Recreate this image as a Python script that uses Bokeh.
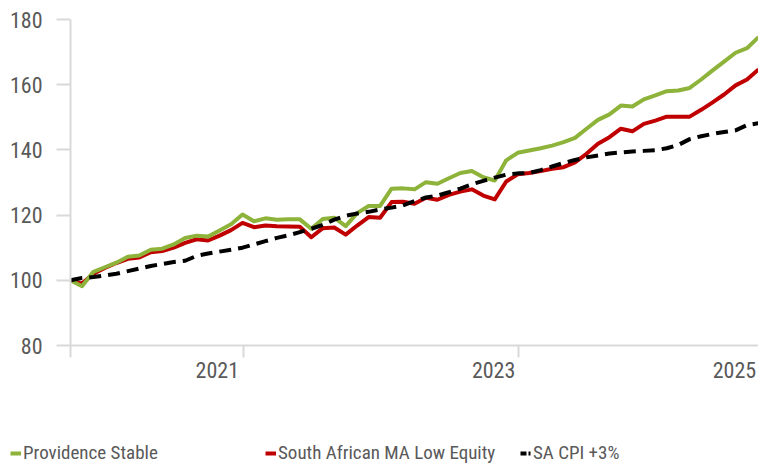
from bokeh.plotting import figure
from bokeh.models import FixedTicker, Legend, LegendItem, Range1d
from bokeh.embed import file_html
from bokeh.resources import INLINE

# ---- data (monthly index values, base 100) ----
month_index = list(range(61))

providence_stable = [
    100.0, 98.2, 102.6, 104.0, 105.4, 107.2, 107.6, 109.4, 109.7, 111.0,
    113.0, 113.7, 113.4, 115.3, 117.2, 120.2, 118.1, 119.0, 118.6, 118.7,
    118.7, 115.8, 118.8, 119.2, 116.6, 120.6, 122.8, 122.8, 128.1, 128.2,
    127.9, 130.1, 129.6, 131.3, 132.9, 133.5, 131.6, 130.6, 136.8, 139.1,
    139.8, 140.5, 141.3, 142.4, 143.7, 146.5, 149.2, 150.9, 153.6, 153.3,
    155.5, 156.7, 158.0, 158.2, 159.0, 161.6, 164.4, 167.1, 169.8, 171.2,
    174.6,
]

sa_ma_low_equity = [
    100.0, 99.0, 102.0, 103.8, 105.3, 106.6, 107.0, 108.6, 109.0, 110.0,
    111.5, 112.6, 112.2, 113.7, 115.4, 117.6, 116.3, 116.8, 116.6, 116.5,
    116.4, 113.2, 116.0, 116.2, 114.0, 116.8, 119.4, 119.2, 124.0, 124.1,
    123.5, 125.3, 124.7, 126.2, 127.2, 127.9, 126.0, 124.8, 130.3, 132.5,
    132.9, 133.5, 134.2, 134.7, 136.2, 138.8, 141.9, 143.9, 146.5, 145.7,
    148.0, 149.0, 150.2, 150.2, 150.2, 152.3, 154.6, 157.0, 159.8, 161.6,
    164.7,
]

sa_cpi_plus3 = [
    100.0, 100.7, 101.0, 101.5, 102.0, 102.8, 103.6, 104.4, 105.0, 105.6,
    106.0, 107.5, 108.2, 108.8, 109.4, 110.0, 111.0, 112.0, 113.0, 113.8,
    114.8, 115.8, 117.0, 118.6, 119.8, 120.5, 121.0, 121.7, 122.3, 123.0,
    124.3, 125.4, 126.0, 127.0, 128.1, 129.5, 130.5, 131.5, 132.4, 132.8,
    132.9, 133.8, 134.9, 136.0, 136.9, 137.7, 138.3, 138.9, 139.2, 139.5,
    139.7, 139.9, 140.5, 141.5, 143.3, 144.2, 144.9, 145.5, 146.0, 147.6,
    148.2,
]

series_names = ["Providence Stable", "South African MA Low Equity", "SA CPI +3%"]
year_labels = ["2021", "2023", "2025"]
y_ticks = [80, 100, 120, 140, 160, 180]

# ---- styling ----
FONT = "'Liberation Sans Narrow', 'Roboto Condensed', 'Arial Narrow', sans-serif"
TEXT = "#595959"
AXIS = "#d9d9d9"
COLORS = ["#8db33a", "#c00000", "black"]
DASHES = ["solid", "solid", "12 7"]

year_label_pos = [12.8, 36.9, 57.9]
year_tick_pos = [0, 15.1, 39.1]

MAIN_H = 428
p = figure(width=758, height=MAIN_H, output_backend="svg", toolbar_location=None,
           x_range=Range1d(0, 60), y_range=Range1d(80, 180),
           min_border_left=70, min_border_right=0, min_border_top=19,
           min_border_bottom=MAIN_H - 345)
p.outline_line_color = None
p.xgrid.visible = False
p.ygrid.visible = False

series = [providence_stable, sa_ma_low_equity, sa_cpi_plus3]
# draw order: red, green, black dashed on top
for idx in (1, 0, 2):
    p.line(month_index, series[idx], line_color=COLORS[idx], line_width=4,
           line_dash=DASHES[idx], line_join="round")

# y axis
ya = p.yaxis[0]
ya.ticker = FixedTicker(ticks=y_ticks, minor_ticks=[])
ya.axis_line_color = AXIS
ya.axis_line_width = 2
ya.major_tick_line_color = AXIS
ya.major_tick_line_width = 2
ya.major_tick_out = 14
ya.major_tick_in = 0
ya.minor_tick_line_color = None
ya.major_label_standoff = 14
ya.major_label_text_font = FONT
ya.major_label_text_font_size = "22px"
ya.major_label_text_color = TEXT

# x axis
xa = p.xaxis[0]
xa.ticker = FixedTicker(ticks=year_label_pos, minor_ticks=year_tick_pos)
xa.major_label_overrides = {pos: lab for pos, lab in zip(year_label_pos, year_labels)}
xa.axis_line_color = AXIS
xa.axis_line_width = 2
xa.major_tick_line_color = None
xa.major_tick_out = 0
xa.major_tick_in = 0
xa.minor_tick_line_color = AXIS
xa.minor_tick_line_width = 2
xa.minor_tick_out = 12
xa.minor_tick_in = 0
xa.major_label_standoff = 4
xa.major_label_text_font = FONT
xa.major_label_text_font_size = "22px"
xa.major_label_text_color = TEXT

# ---- legend strip: its own root so its frame spans the full width ----
LEG_H = 468 - MAIN_H
q = figure(width=758, height=LEG_H, output_backend="svg", toolbar_location=None,
           x_range=Range1d(0, 1), y_range=Range1d(0, 1),
           x_axis_location=None, y_axis_location=None,
           min_border_left=0, min_border_right=0, min_border_top=0, min_border_bottom=0)
q.outline_line_color = None
q.xgrid.visible = False
q.ygrid.visible = False
items = []
for name, col, dash in zip(series_names, COLORS, DASHES):
    # legend proxies, placed outside the strip's visible range
    legend_dash = "6 2 2 2" if dash != "solid" else dash
    rr = q.line([5, 6], [5, 6], line_color=col, line_width=4, line_dash=legend_dash)
    items.append(LegendItem(label=name, renderers=[rr]))

legend = Legend(
    items=items, location=(10, 4), orientation="horizontal",
    glyph_width=11, glyph_height=20, label_standoff=2, label_width=242,
    spacing=0, padding=0, margin=0,
    border_line_color=None, background_fill_alpha=0,
    label_text_font=FONT, label_text_font_size="19px", label_text_color=TEXT,
)
q.add_layout(legend, "center")

open("out.html", "w").write(file_html([p, q], INLINE))
